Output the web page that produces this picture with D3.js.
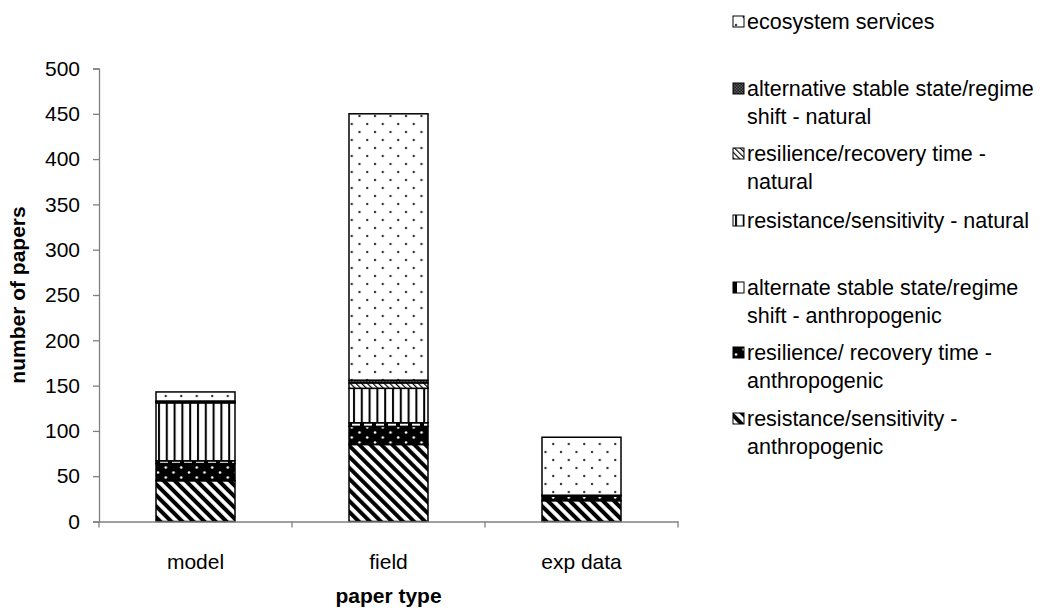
<!DOCTYPE html>
<html><head><meta charset="utf-8">
<script src="https://cdn.jsdelivr.net/npm/d3@7"></script>
<style>
html,body{margin:0;padding:0;background:#fff;}
svg{display:block;font-family:"Liberation Sans",Arial,sans-serif;}
</style></head>
<body>
<svg id="chart" width="1046" height="610"></svg>
<script>
// ---- data ----
const categories = ["model", "field", "exp data"];
const resistAnthro = [45, 85, 23];
const resilAnthro  = [19, 20, 5];
const altAnthro    = [3, 4, 1];
const resistNat    = [64, 38, 0];
const resilNat     = [1, 6, 0];
const altNat       = [1, 3, 0];
const ecoServices  = [10, 294, 64];
const yTicks = [0, 50, 100, 150, 200, 250, 300, 350, 400, 450, 500];
const seriesKeys = ["resistAnthro","resilAnthro","altAnthro","resistNat","resilNat","altNat","eco"];
const seriesValues = [resistAnthro, resilAnthro, altAnthro, resistNat, resilNat, altNat, ecoServices];
// legend, top to bottom
const legendKeys = ["eco","altNat","resilNat","resistNat","altAnthro","resilAnthro","resistAnthro"];
const legendLabels = [
  ["ecosystem services"],
  ["alternative stable state/regime", "shift - natural"],
  ["resilience/recovery time -", "natural"],
  ["resistance/sensitivity - natural"],
  ["alternate stable state/regime", "shift - anthropogenic"],
  ["resilience/ recovery time -", "anthropogenic"],
  ["resistance/sensitivity -", "anthropogenic"]
];

const FS = 21;
const svg = d3.select("#chart");
const defs = svg.append("defs");

// ---- patterns ----
function pat(id, w, h, transform) {
  const p = defs.append("pattern").attr("id", id).attr("patternUnits", "userSpaceOnUse")
    .attr("width", w).attr("height", h);
  if (transform) p.attr("patternTransform", transform);
  return p;
}
let p = pat("p-eco", 15.5, 16);
p.append("rect").attr("width", 15.5).attr("height", 16).attr("fill", "#fff");
p.append("circle").attr("cx", 3).attr("cy", 4).attr("r", 1.2).attr("fill", "#333");
p.append("circle").attr("cx", 10.75).attr("cy", 12).attr("r", 1.2).attr("fill", "#333");
p = pat("p-altNat", 3, 3);
p.append("rect").attr("width", 3).attr("height", 3).attr("fill", "#555");
p.append("rect").attr("width", 1.5).attr("height", 1.5).attr("fill", "#222");
p.append("rect").attr("x", 1.5).attr("y", 1.5).attr("width", 1.5).attr("height", 1.5).attr("fill", "#222");
p = pat("p-resilNat", 4, 4, "rotate(-45)");
p.append("rect").attr("width", 4).attr("height", 4).attr("fill", "#fff");
p.append("rect").attr("width", 1.2).attr("height", 4).attr("fill", "#000");
p = pat("p-resistNat", 7.8, 10);
p.append("rect").attr("width", 7.8).attr("height", 10).attr("fill", "#fff");
p.append("rect").attr("x", 2).attr("width", 2).attr("height", 10).attr("fill", "#000");
p = pat("p-altAnthro", 12, 10);
p.append("rect").attr("width", 12).attr("height", 10).attr("fill", "#fff");
p.append("rect").attr("x", 0).attr("width", 4).attr("height", 10).attr("fill", "#000");
p = pat("p-resilAnthro", 15.5, 10);
p.append("rect").attr("width", 15.5).attr("height", 10).attr("fill", "#000");
p.append("circle").attr("cx", 3).attr("cy", 2.5).attr("r", 1.3).attr("fill", "#fff");
p.append("circle").attr("cx", 10.75).attr("cy", 7.5).attr("r", 1.3).attr("fill", "#fff");
p = pat("p-resistAnthro", 7.8, 8, "rotate(-45)");
p.append("rect").attr("width", 7.8).attr("height", 8).attr("fill", "#fff");
p.append("rect").attr("width", 4).attr("height", 8).attr("fill", "#000");

// ---- scales ----
const x = d3.scaleBand().domain(categories).range([99, 678]).padding(0);
const y = d3.scaleLinear().domain([0, 500]).range([521.5, 68.5]);
const barW = 79;

const table = categories.map((c, i) => {
  const o = {cat: c};
  seriesKeys.forEach((k, j) => o[k] = seriesValues[j][i]);
  return o;
});
const stacked = d3.stack().keys(seriesKeys)(table);

const bars = svg.append("g");
stacked.forEach(s => {
  bars.append("g").selectAll("rect").data(s.filter(d => d[1] - d[0] > 0)).join("rect")
    .attr("x", d => x(d.data.cat) + x.bandwidth() / 2 - barW / 2)
    .attr("width", barW)
    .attr("y", d => y(d[1]))
    .attr("height", d => y(d[0]) - y(d[1]))
    .attr("fill", `url(#p-${s.key})`)
    .attr("stroke", "#000").attr("stroke-width", 1.5);
});

// ---- axes ----
const yAxis = svg.append("g").attr("transform", "translate(99,0)")
  .call(d3.axisLeft(y).tickValues(yTicks).tickSize(6).tickPadding(13));
const xAxis = svg.append("g").attr("transform", `translate(0,${y(0)})`)
  .call(d3.axisBottom(x).tickSize(0).tickPadding(33));
[yAxis, xAxis].forEach(a => {
  a.select(".domain").attr("stroke", "#808080").attr("stroke-width", 1.3);
  a.selectAll(".tick line").attr("stroke", "#808080").attr("stroke-width", 1.3);
  a.selectAll("text").attr("fill", "#000").attr("font-size", FS)
    .attr("font-family", "'Liberation Sans', Arial, sans-serif");
});
const bounds = categories.map(c => x(c)).concat([x.range()[1]]);
svg.append("g").selectAll("line").data(bounds).join("line")
  .attr("x1", d => d).attr("x2", d => d)
  .attr("y1", y(0)).attr("y2", y(0) + 6)
  .attr("stroke", "#808080").attr("stroke-width", 1.3);

svg.append("text").attr("transform", "translate(25,295) rotate(-90)")
  .attr("text-anchor", "middle").attr("font-weight", "bold").attr("font-size", FS)
  .text("number of papers");
svg.append("text").attr("x", (x.range()[0] + x.range()[1]) / 2).attr("y", 603)
  .attr("text-anchor", "middle").attr("font-weight", "bold").attr("font-size", FS)
  .text("paper type");

// ---- legend ----
const legendY = [21, 88, 153, 220, 287, 352, 418];
const lg = svg.append("g");
legendKeys.forEach((k, i) => {
  const g = lg.append("g").attr("transform", `translate(733,${legendY[i]})`);
  g.append("rect").attr("x", 0).attr("y", -5).attr("width", 11).attr("height", 11)
    .attr("fill", `url(#p-${k})`).attr("stroke", "#000").attr("stroke-width", 1);
  legendLabels[i].forEach((line, j) => {
    g.append("text").attr("x", 14).attr("y", j * 28.5).attr("dy", "0.35em")
      .attr("font-size", 21.5).text(line);
  });
});
</script>
</body></html>
